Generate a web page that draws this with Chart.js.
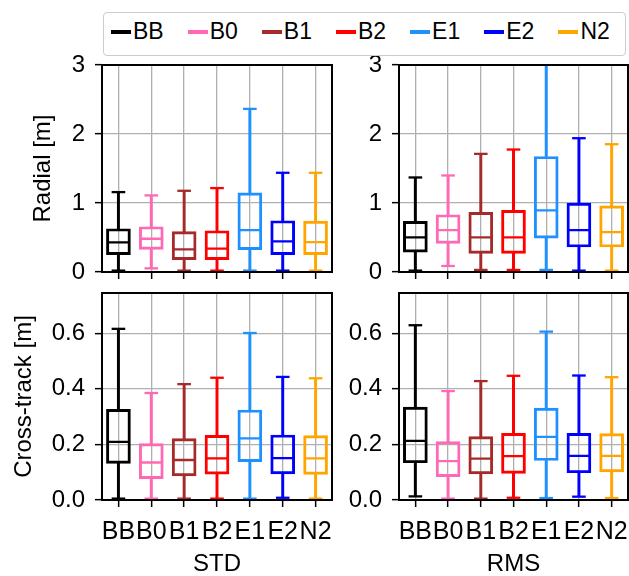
<!DOCTYPE html>
<html>
<head>
<meta charset="utf-8">
<script src="https://cdn.jsdelivr.net/npm/chart.js@4.4.1/dist/chart.umd.min.js"></script>
<style>
  html, body { margin: 0; padding: 0; background: #fff; }
  #wrap { position: relative; width: 629px; height: 576px; overflow: hidden; }
  #wrap canvas { position: absolute; left: 0; top: 0; }
  #legend {
    position: absolute; left: 103px; top: 12px; width: 523px; height: 44px;
    box-sizing: border-box; border: 1.3px solid #cccccc; border-radius: 4px;
    background: #fff; display: flex; align-items: center;
    padding-left: 7px; padding-bottom: 5px;
    font: 23px 'Liberation Sans', Arial, sans-serif; color: #000;
  }
  .item { display: flex; align-items: center; margin-right: 24px; }
  .swatch { width: 20px; height: 4px; margin-right: 2px; }
</style>
</head>
<body>
<div id="wrap">
  <canvas id="tl" width="629" height="576"></canvas>
  <canvas id="tr" width="629" height="576"></canvas>
  <canvas id="bl" width="629" height="576"></canvas>
  <canvas id="br" width="629" height="576"></canvas>
  <div id="legend"></div>
</div>
<script>
const groups = ['BB', 'B0', 'B1', 'B2', 'E1', 'E2', 'N2'];
const colors = ['#000000', '#ff69b4', '#a52a2a', '#ff0000', '#1e90ff', '#0000ff', '#ffa500'];

// STD radial [m]
const stdRadMin = [0.02, 0.053, 0.02, 0.02, 0.02, 0.02, 0.02];
const stdRadQ1  = [0.251, 0.328, 0.178, 0.178, 0.323, 0.251, 0.251];
const stdRadMed = [0.429, 0.482, 0.328, 0.338, 0.608, 0.444, 0.434];
const stdRadQ3  = [0.627, 0.656, 0.584, 0.598, 1.148, 0.743, 0.738];
const stdRadMax = [1.158, 1.11, 1.177, 1.216, 2.364, 1.438, 1.438];

// RMS radial [m]
const rmsRadMin = [0.02, 0.087, 0.03, 0.03, 0.03, 0.02, 0.02];
const rmsRadQ1  = [0.289, 0.415, 0.27, 0.27, 0.492, 0.362, 0.362];
const rmsRadMed = [0.502, 0.608, 0.502, 0.502, 0.892, 0.608, 0.579];
const rmsRadQ3  = [0.733, 0.83, 0.863, 0.892, 1.674, 0.999, 0.96];
const rmsRadMax = [1.37, 1.399, 1.712, 1.775, 3.2, 1.939, 1.852];

// STD cross-track [m]
const stdCrsMin = [0.005, 0.005, 0.005, 0.005, 0.005, 0.008, 0.005];
const stdCrsQ1  = [0.132, 0.077, 0.087, 0.093, 0.138, 0.094, 0.092];
const stdCrsMed = [0.209, 0.135, 0.144, 0.15, 0.222, 0.151, 0.15];
const stdCrsQ3  = [0.326, 0.203, 0.221, 0.233, 0.324, 0.234, 0.232];
const stdCrsMax = [0.616, 0.385, 0.417, 0.44, 0.601, 0.443, 0.438];

// RMS cross-track [m]
const rmsCrsMin = [0.013, 0.005, 0.005, 0.008, 0.007, 0.012, 0.007];
const rmsCrsQ1  = [0.134, 0.084, 0.094, 0.096, 0.142, 0.098, 0.101];
const rmsCrsMed = [0.213, 0.14, 0.149, 0.158, 0.227, 0.159, 0.159];
const rmsCrsQ3  = [0.334, 0.21, 0.228, 0.24, 0.331, 0.24, 0.239];
const rmsCrsMax = [0.629, 0.392, 0.428, 0.447, 0.606, 0.448, 0.442];

Chart.defaults.font.family = "'Liberation Sans', Arial, sans-serif";
Chart.defaults.font.size = 24;
Chart.defaults.color = '#000';

const LW = 2.3;

// draw the other two spines so each panel is boxed like matplotlib
const frame = {
  id: 'frame',
  afterDraw(chart) {
    const { ctx, chartArea: a } = chart;
    ctx.save();
    ctx.strokeStyle = '#000';
    ctx.lineWidth = 2;
    ctx.strokeRect(a.left, a.top, a.right - a.left, a.bottom - a.top);
    ctx.restore();
  }
};

function boxChart(id, s, o) {
  const pair = (a, b) => groups.map((g, i) => [a[i], b[i]]);
  const capSet = (vals, r) => ({
    type: 'line', data: vals, showLine: false,
    pointStyle: 'line', pointRadius: r, pointHoverRadius: r,
    pointBorderWidth: LW, pointBorderColor: colors
  });
  return new Chart(document.getElementById(id), {
    type: 'bar',
    data: {
      labels: groups,
      datasets: [
        capSet(s.med, 11),
        capSet(s.min, 6.8),
        capSet(s.max, 6.8),
        { data: pair(s.q1, s.q3), backgroundColor: 'rgba(0,0,0,0)', borderColor: colors,
          borderWidth: LW, borderSkipped: false, barThickness: 24, grouped: false },
        { data: pair(s.min, s.q1), backgroundColor: colors, borderWidth: 0,
          barThickness: LW, grouped: false },
        { data: pair(s.q3, s.max), backgroundColor: colors, borderWidth: 0,
          barThickness: LW, grouped: false }
      ]
    },
    options: {
      responsive: false,
      animation: false,
      events: [],
      // autoPadding off, or the cap/median points shrink the plot area
      layout: { padding: o.pad, autoPadding: false },
      plugins: { legend: { display: false }, tooltip: { enabled: false } },
      scales: {
        x: {
          offset: true,
          grid: { offset: false, color: '#b0b0b0', lineWidth: 1.3, tickColor: '#000',
                  tickLength: 7, tickWidth: 1.5 },
          border: { color: '#000', width: 2 },
          // padding 0 keeps the plot from shrinking; the tall line height pushes labels down
          ticks: { autoSkip: false, maxRotation: 0, minRotation: 0, padding: 0,
                   font: { size: 25, lineHeight: '50px' },
                   callback: function (v, i) { return o.xLabels ? groups[i] : ''; } },
          title: { display: !!o.xTitle, text: o.xTitle, font: { lineHeight: 1 },
                   padding: { top: 0, bottom: 0 } },
          afterFit: sc => { sc.height = o.xh; }
        },
        y: {
          min: 0, max: o.yMax,
          grid: { color: '#b0b0b0', lineWidth: 1.3, tickColor: '#000',
                  tickLength: 7, tickWidth: 1.5 },
          border: { color: '#000', width: 2 },
          ticks: { stepSize: o.step, includeBounds: false, padding: 10,
                   callback: v => v.toFixed(o.dec) },
          title: { display: !!o.yTitle, text: o.yTitle, padding: { top: o.yTitlePad, bottom: 0 } },
          afterFit: sc => { sc.width = o.yw; }
        }
      }
    },
    plugins: [frame]
  });
}

boxChart('tl', { min: stdRadMin, q1: stdRadQ1, med: stdRadMed, q3: stdRadQ3, max: stdRadMax },
  { pad: { left: 0, right: 297, top: 65, bottom: 294 }, xh: 10, yw: 102, yMax: 3, step: 1, dec: 0,
    yTitle: 'Radial [m]', yTitlePad: 28.6, xLabels: false });
boxChart('tr', { min: rmsRadMin, q1: rmsRadQ1, med: rmsRadMed, q3: rmsRadQ3, max: rmsRadMax },
  { pad: { left: 339, right: 1, top: 65, bottom: 294 }, xh: 10, yw: 60, yMax: 3, step: 1, dec: 0,
    xLabels: false });
boxChart('bl', { min: stdCrsMin, q1: stdCrsQ1, med: stdCrsMed, q3: stdCrsQ3, max: stdCrsMax },
  { pad: { left: 0, right: 297, top: 293, bottom: 0 }, xh: 76, yw: 102, yMax: 0.745, step: 0.2, dec: 1,
    yTitle: 'Cross-track [m]', yTitlePad: 9.6, xLabels: true, xTitle: 'STD' });
boxChart('br', { min: rmsCrsMin, q1: rmsCrsQ1, med: rmsCrsMed, q3: rmsCrsQ3, max: rmsCrsMax },
  { pad: { left: 339, right: 1, top: 293, bottom: 0 }, xh: 76, yw: 60, yMax: 0.745, step: 0.2, dec: 1,
    xLabels: true, xTitle: 'RMS' });

// legend
const legend = document.getElementById('legend');
groups.forEach((g, i) => {
  const item = document.createElement('div');
  item.className = 'item';
  const sw = document.createElement('span');
  sw.className = 'swatch';
  sw.style.background = colors[i];
  const tx = document.createElement('span');
  tx.textContent = g;
  item.appendChild(sw);
  item.appendChild(tx);
  legend.appendChild(item);
});
</script>
</body>
</html>
